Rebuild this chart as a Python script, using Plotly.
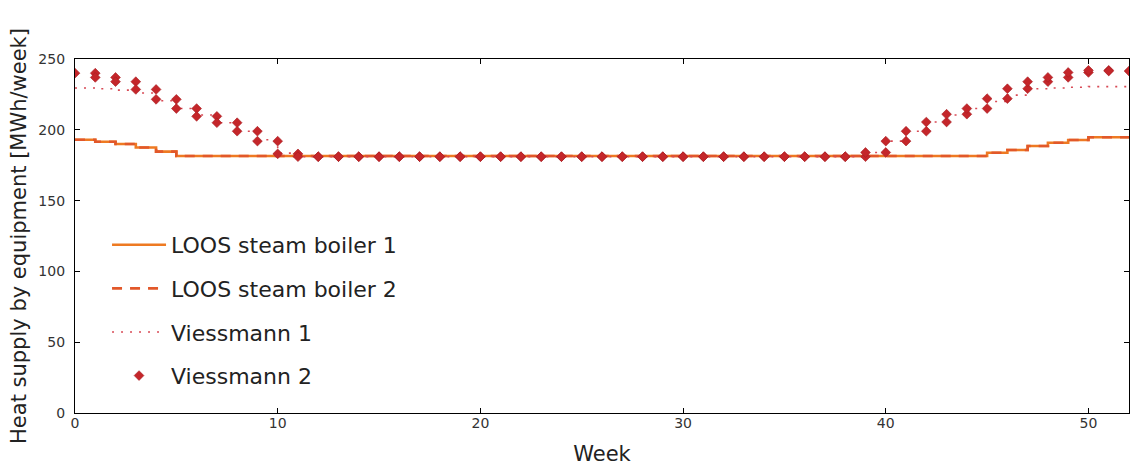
import plotly.graph_objects as go

weeks = list(range(52))

boiler1 = [193, 191.6, 190, 187.5, 184.6] + [181.5] * 40 + [183.8, 185.7, 188.6, 190.9, 192.8, 194.7, 194.7]
boiler2 = [193, 191.6, 190, 187.5, 184.6] + [181.5] * 40 + [183.8, 185.7, 188.6, 190.9, 192.8, 194.7, 194.7]
viessmann1 = [229.5, 229, 228, 226, 220.5, 215, 210.5, 205, 199, 193, 183.5] + [181] * 28 + \
             [184, 192, 199, 205.5, 210.5, 215, 220, 224.5, 229, 229.5, 230, 230.5, 230.5]
viessmann2 = [240, 237, 234, 228.5, 221.5, 215, 209.5, 205, 199, 192, 183] + [181] * 28 + \
             [184, 192, 199, 205.5, 211, 215, 222, 229, 234, 237, 240.5, 242, 241.5]

names = ["LOOS steam boiler 1", "LOOS steam boiler 2", "Viessmann 1", "Viessmann 2"]
x_ticks = [0, 10, 20, 30, 40, 50]
y_ticks = [0, 50, 100, 150, 200, 250]


def step_path(vals):
    xs = weeks + [len(vals)]
    ys = list(vals) + [vals[-1]]
    return xs, ys


def step_markers(vals):
    xs, ys = [0], [vals[0]]
    for k in range(1, len(vals)):
        xs += [k, k]
        ys += [vals[k - 1], vals[k]]
    xs.append(len(vals))
    ys.append(vals[-1])
    return xs, ys


FONT = "DejaVu Sans"
fig = go.Figure()

x1, y1 = step_path(boiler1)
fig.add_trace(go.Scatter(x=x1, y=y1, mode="lines", name=names[0], line_shape="hv",
                         line=dict(color="#ee7a22", width=2.6), legendgroup="a"))
x2, y2 = step_path(boiler2)
fig.add_trace(go.Scatter(x=x2, y=y2, mode="lines", name=names[1], line_shape="hv",
                         line=dict(color="#e2582a", width=2.6, dash="10px,8px"), legendgroup="b"))
x3, y3 = step_path(viessmann1)
fig.add_trace(go.Scatter(x=x3, y=y3, mode="lines", name=names[2], line_shape="hv",
                         line=dict(color="#d84a55", width=1.6, dash="2px,7px"), legendgroup="c"))
x4, y4 = step_markers(viessmann2)
fig.add_trace(go.Scatter(x=x4, y=y4, mode="markers", name=names[3],
                         marker=dict(symbol="diamond", size=7.5, color="#c4262a",
                                     line=dict(color="#a81c22", width=0.6)), legendgroup="d"))

axis_common = dict(showgrid=False, zeroline=False, ticks="inside", ticklen=5, tickwidth=1,
                   tickcolor="black", showline=True, linecolor="black", linewidth=1.2,
                   mirror="allticks", automargin=False,
                   tickfont=dict(family=FONT, size=14, color="#333333"))

fig.update_layout(
    width=1131, height=466,
    margin=dict(l=75, r=2, t=59, b=53),
    paper_bgcolor="white", plot_bgcolor="white",
    font=dict(family=FONT, color="#222222"),
    showlegend=True,
    legend=dict(x=0.0304, y=0.534, xanchor="left", yanchor="top", bgcolor="rgba(0,0,0,0)",
                font=dict(family=FONT, size=22, color="#222222"), tracegroupgap=12,
                itemwidth=54),
    xaxis=dict(range=[0, 52], tickvals=x_ticks, ticklabelstandoff=-3,
               title=dict(text="Week", font=dict(family=FONT, size=21), standoff=16), **axis_common),
    yaxis=dict(range=[0, 250], tickvals=y_ticks, ticklabelstandoff=6,
               title=dict(text="Heat supply by equipment [MWh/week]", font=dict(family=FONT, size=21),
                          standoff=6), **axis_common),
)

fig.write_html("out.html", config={"displayModeBar": False},
               post_script="document.body.style.margin='0';document.body.style.overflow='hidden';")
